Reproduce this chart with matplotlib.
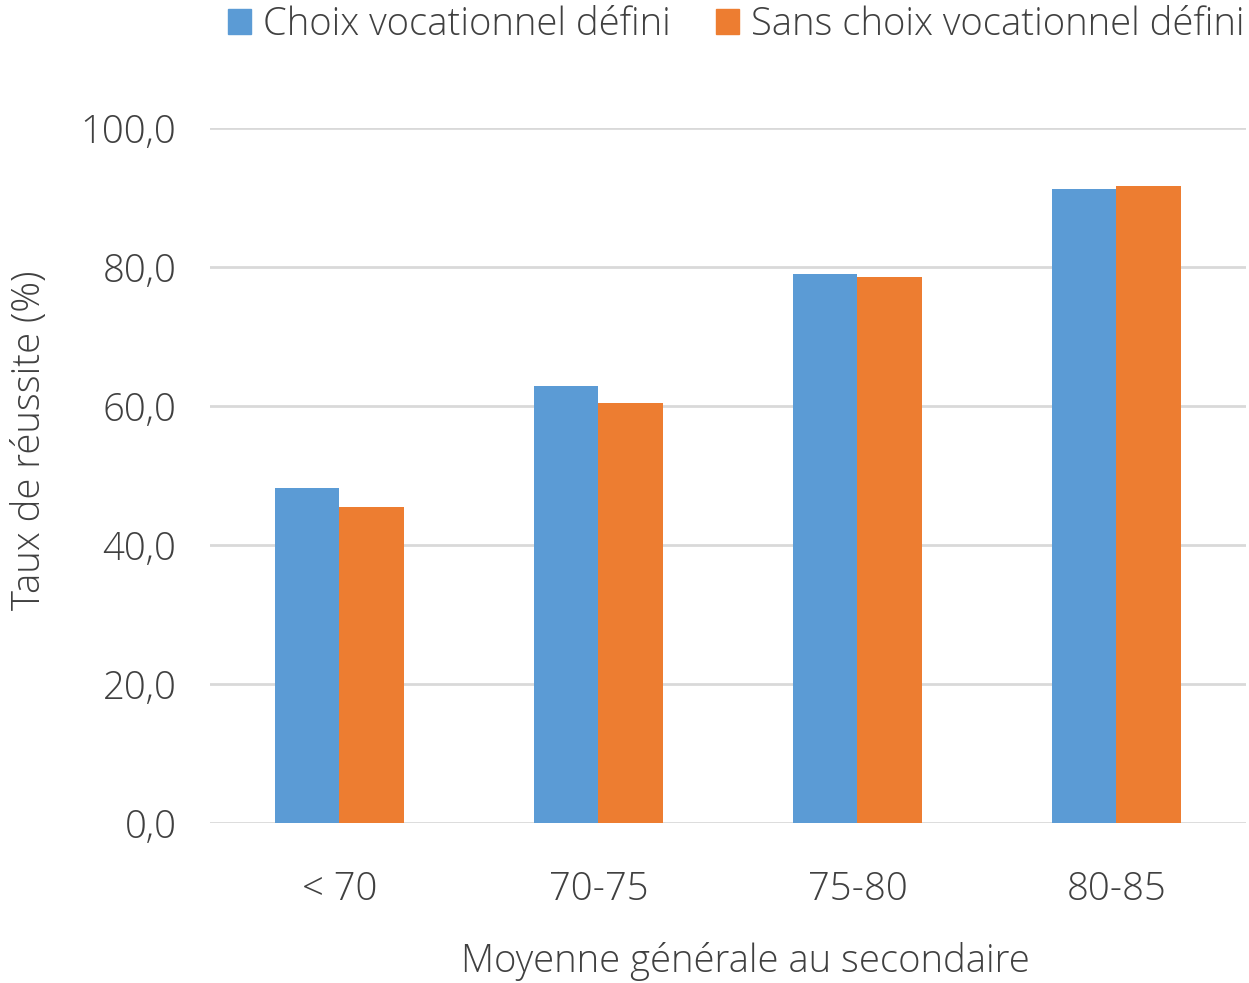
import matplotlib
matplotlib.use("Agg")
import matplotlib.pyplot as plt
import numpy as np
from matplotlib.patches import Patch

categories = ["< 70", "70-75", "75-80", "80-85"]
series_names = ["Choix vocationnel défini", "Sans choix vocationnel défini"]
choix = [48.2, 62.9, 79.0, 91.2]
sans_choix = [45.5, 60.4, 78.6, 91.7]
yticks = [0, 20, 40, 60, 80, 100]
ytick_labels = ["0,0", "20,0", "40,0", "60,0", "80,0", "100,0"]

plt.rcParams['font.family'] = ['Open Sans', 'DejaVu Sans']
plt.rcParams['font.weight'] = 'light'
text_color = "#404040"
blue = "#5B9BD5"
orange = "#ED7D31"
fs = 27.5

fig = plt.figure(figsize=(12.49, 9.83), dpi=100)
ax = fig.add_axes([0.168, 0.1628, 0.8296, 0.707])

x = np.arange(len(categories))
w = 0.25
ax.bar(x - w/2, choix, width=w, color=blue, zorder=3)
ax.bar(x + w/2, sans_choix, width=w, color=orange, zorder=3)

ax.set_xlim(-0.5, 3.5)
ax.set_ylim(0, 100)
ax.set_yticks(yticks)
ax.set_yticklabels(ytick_labels)
ax.set_xticks(x)
ax.set_xticklabels(categories)
ax.yaxis.grid(True, color="#d9d9d9", linewidth=2, zorder=0)
ax.set_axisbelow(True)
for s in ax.spines.values():
    s.set_visible(False)
ax.tick_params(axis='both', length=0, labelsize=fs, colors=text_color)
ax.tick_params(axis='y', pad=24)
ax.tick_params(axis='x', pad=34)
for lbl in ax.get_xticklabels() + ax.get_yticklabels():
    lbl.set_fontweight('light')

ax.set_ylabel("Taux de réussite (%)", fontsize=fs, color=text_color, fontweight='light')
ax.yaxis.set_label_coords((30 - 210) / 1036, (823 - 440) / 695)
ax.yaxis.label.set_va('center')
ax.set_xlabel("Moyenne générale au secondaire", fontsize=fs, color=text_color, fontweight='light')
ax.xaxis.set_label_coords((745 - 210) / 1036, -(962 - 823) / 695)
ax.xaxis.label.set_va('center')

handles = [Patch(color=blue), Patch(color=orange)]
leg = fig.legend(handles, series_names, loc='upper left', bbox_to_anchor=(213 / 1249, 1.010), ncol=2,
                 frameon=False, fontsize=fs, handlelength=0.6, handleheight=0.6,
                 handletextpad=0.3, columnspacing=1.2, borderaxespad=0)
for t in leg.get_texts():
    t.set_color(text_color)
    t.set_fontweight('light')

fig.savefig("out.png", dpi=100)
